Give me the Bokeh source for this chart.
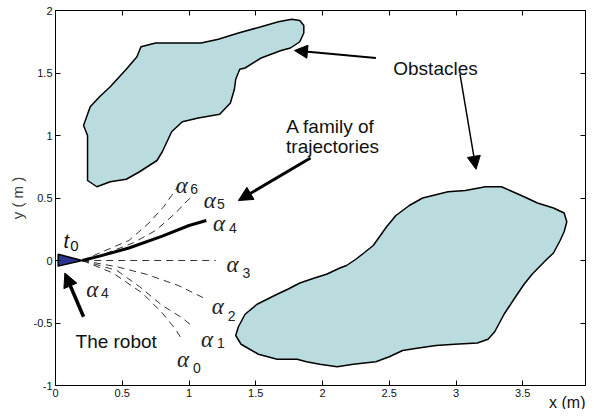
from bokeh.plotting import figure
from bokeh.models import Range1d, LinearAxis, Label, Arrow, NormalHead, FixedTicker, Title
from bokeh.core.properties import value
from bokeh.embed import file_html
from bokeh.resources import INLINE

# ---------------- data ----------------
obs1_x = [0.64, 0.75, 0.94, 1.09, 1.22, 1.37, 1.54, 1.67, 1.77, 1.83, 1.86, 1.86, 1.83, 1.76, 1.69,
          1.54, 1.42, 1.38, 1.35, 1.34, 1.31, 1.23, 1.07, 0.95, 0.87, 0.80, 0.76, 0.63, 0.53, 0.41,
          0.31, 0.24, 0.24, 0.24, 0.21, 0.26, 0.33, 0.41, 0.53, 0.61]
obs1_y = [1.71, 1.74, 1.74, 1.74, 1.77, 1.82, 1.87, 1.91, 1.93, 1.92, 1.88, 1.82, 1.75, 1.70, 1.68,
          1.62, 1.54, 1.53, 1.45, 1.37, 1.26, 1.17, 1.14, 1.11, 1.03, 0.87, 0.80, 0.71, 0.65, 0.63,
          0.59, 0.64, 0.81, 1.00, 1.08, 1.23, 1.31, 1.39, 1.53, 1.63]

obs2_x = [1.35, 1.37, 1.42, 1.51, 1.66, 1.74, 1.83, 1.94, 2.03, 2.13, 2.18, 2.25, 2.31, 2.38, 2.42,
          2.48, 2.55, 2.65, 2.75, 2.94, 3.07, 3.22, 3.34, 3.51, 3.61, 3.73, 3.81, 3.83, 3.81, 3.78,
          3.73, 3.68, 3.57, 3.51, 3.44, 3.36, 3.29, 3.24, 3.16, 2.99, 2.85, 2.72, 2.60, 2.50, 2.40,
          2.23, 2.11, 1.98, 1.88, 1.81, 1.66, 1.52, 1.39]
obs2_y = [-0.60, -0.53, -0.43, -0.35, -0.27, -0.23, -0.18, -0.14, -0.11, -0.06, -0.04, 0.01, 0.06, 0.12, 0.18,
          0.27, 0.36, 0.44, 0.50, 0.55, 0.56, 0.59, 0.59, 0.51, 0.46, 0.42, 0.38, 0.31, 0.23, 0.16,
          0.06, 0.01, -0.11, -0.19, -0.30, -0.43, -0.57, -0.63, -0.66, -0.67, -0.68, -0.70, -0.72, -0.77, -0.81,
          -0.83, -0.85, -0.83, -0.81, -0.79, -0.79, -0.75, -0.67]

robot_x = [0.02, 0.02, 0.20]
robot_y = [0.05, -0.045, 0.0]

a6_x = [0.20, 0.33, 0.55, 0.70, 0.81, 0.87, 0.94]
a6_y = [0.00, 0.06, 0.16, 0.30, 0.43, 0.52, 0.63]
a5_x = [0.20, 0.35, 0.58, 0.75, 0.90, 0.97, 1.03]
a5_y = [0.00, 0.045, 0.14, 0.24, 0.38, 0.46, 0.52]
a4_x = [0.20, 0.33, 0.55, 0.80, 1.00, 1.13]
a4_y = [0.00, 0.035, 0.10, 0.195, 0.28, 0.32]
a3_x = [0.20, 1.20]
a3_y = [0.00, 0.00]
a2_x = [0.20, 0.46, 0.68, 0.92, 1.13]
a2_y = [0.00, -0.05, -0.11, -0.20, -0.31]
a1_x = [0.20, 0.46, 0.63, 0.80, 0.95, 1.03]
a1_y = [0.00, -0.08, -0.21, -0.36, -0.46, -0.53]
a0_x = [0.20, 0.43, 0.65, 0.80, 0.90, 0.94]
a0_y = [0.00, -0.10, -0.26, -0.42, -0.55, -0.62]

alpha_sub = ["6", "5", "4", "3", "2", "1", "0", "4"]
alpha_x = [0.90, 1.11, 1.18, 1.28, 1.17, 1.09, 0.91, 0.23]
alpha_y = [0.60, 0.48, 0.30, -0.03, -0.37, -0.63, -0.79, -0.23]
sub_x = [1.01, 1.21, 1.30, 1.40, 1.29, 1.21, 1.03, 0.34]
sub_y = [0.57, 0.45, 0.26, -0.10, -0.44, -0.66, -0.86, -0.26]

x_ticks = [0, 0.5, 1, 1.5, 2, 2.5, 3, 3.5]
x_tick_labels = ["0", "0.5", "1", "1.5", "2", "2.5", "3", "3.5"]
y_ticks = [-1, -0.5, 0, 0.5, 1, 1.5, 2]
y_tick_labels = ["-1", "-0.5", "0", "0.5", "1", "1.5", "2"]

# ---------------- figure ----------------
p = figure(width=586, height=409, x_range=Range1d(0, 3.97), y_range=Range1d(-1, 2),
           output_backend="svg", toolbar_location=None,
           min_border_left=55, min_border_right=1, min_border_top=10, min_border_bottom=24)
p.xgrid.visible = False
p.ygrid.visible = False
p.outline_line_color = "black"
p.outline_line_width = 1
p.background_fill_color = "white"
p.border_fill_color = "white"

FONT = "Liberation Sans"

def style_axis(ax, ticks, labels, show_labels=True):
    ax.ticker = FixedTicker(ticks=ticks)
    ax.major_tick_in = 5
    ax.major_tick_out = 0
    ax.minor_tick_in = 0
    ax.minor_tick_out = 0
    ax.axis_line_color = "black"
    ax.major_tick_line_color = "black"
    ax.major_label_text_font = FONT
    if show_labels:
        ax.major_label_overrides = {t: l for t, l in zip(ticks, labels)}
        ax.major_label_text_color = "#111111"
        ax.major_label_text_font_size = "11px"
        ax.major_label_standoff = 3
    else:
        ax.major_label_text_color = None
        ax.major_label_text_font_size = "1px"
        ax.major_label_standoff = 0

style_axis(p.xaxis[0], x_ticks, x_tick_labels)
style_axis(p.yaxis[0], y_ticks, y_tick_labels)
p.yaxis[0].axis_label = "y ( m )"
p.yaxis[0].axis_label_text_font = FONT
p.yaxis[0].axis_label_text_font_style = "normal"
p.yaxis[0].axis_label_text_font_size = "15px"
p.yaxis[0].axis_label_standoff = 5

# x-axis label at the bottom right, as in the reference
p.add_layout(Title(text="x (m)", align="right", standoff=-16, text_font=FONT,
                   text_font_size="16px", text_font_style="normal", text_color="#111111"),
             "below")

top = LinearAxis()
style_axis(top, x_ticks, x_tick_labels, show_labels=False)
p.add_layout(top, "above")
right = LinearAxis()
style_axis(right, y_ticks, y_tick_labels, show_labels=False)
p.add_layout(right, "right")

# obstacles
OBS = "#badcdf"
p.patch(obs1_x, obs1_y, fill_color=OBS, line_color="black", line_width=1.5)
p.patch(obs2_x, obs2_y, fill_color=OBS, line_color="black", line_width=1.5)

# trajectories
DASH = dict(line_dash="7 5", line_color="#333333", line_width=1)
for xs, ys in [(a6_x, a6_y), (a5_x, a5_y), (a3_x, a3_y), (a2_x, a2_y), (a1_x, a1_y), (a0_x, a0_y)]:
    p.line(xs, ys, **DASH)
p.line(a4_x, a4_y, line_color="black", line_width=3)

# robot
p.patch(robot_x, robot_y, fill_color="#2b3690", line_color="black", line_width=1.5)

# alpha labels
p.text(x=alpha_x, y=alpha_y, text=["α"] * len(alpha_x), text_font=value("Liberation Serif"),
       text_font_style="italic", text_font_size="23px", text_baseline="alphabetic",
       text_align="left", text_color="#222222")
p.text(x=sub_x, y=sub_y, text=alpha_sub, text_font=value(FONT), text_font_size="14px",
       text_baseline="alphabetic", text_align="left", text_color="#222222")
# t0
p.text(x=[0.06], y=[0.16], text=["t"], text_font=value(FONT), text_font_style="italic",
       text_font_size="20px", text_baseline="alphabetic", text_color="#111111")
p.text(x=[0.11], y=[0.12], text=["0"], text_font=value(FONT), text_font_size="15px",
       text_baseline="alphabetic", text_color="#111111")

# annotations
def label(x, y, text, size="19px", align="left"):
    p.add_layout(Label(x=x, y=y, text=text, text_font=FONT, text_font_size=size,
                       text_baseline="alphabetic", text_align=align, text_color="#111111"))

label(2.53, 1.54, "Obstacles")
label(2.06, 1.07, "A family of", align="center")
label(2.075, 0.91, "trajectories", align="center")
label(0.15, -0.65, "The robot")

def arrow(x0, y0, x1, y1, w, size):
    p.add_layout(Arrow(end=NormalHead(size=size, fill_color="black", line_color="black"),
                       x_start=x0, y_start=y0, x_end=x1, y_end=y1,
                       line_width=w, line_color="black"))

arrow(2.40, 1.62, 1.79, 1.68, 2, 13)
arrow(3.03, 1.49, 3.15, 0.73, 1.5, 13)
arrow(1.91, 0.82, 1.37, 0.48, 3, 14)
arrow(0.21, -0.45, 0.07, -0.10, 3.5, 14)

open("out.html", "w").write(file_html(p, INLINE))
